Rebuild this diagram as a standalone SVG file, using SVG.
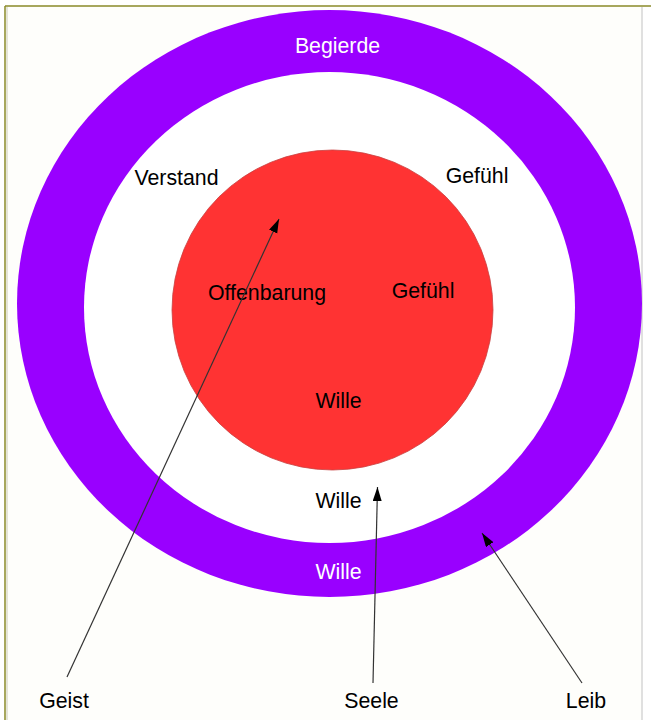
<svg xmlns="http://www.w3.org/2000/svg" width="651" height="720" viewBox="0 0 651 720">
<defs>
<style>
.t{font-family:"Liberation Sans",Arial,sans-serif;font-size:21.3px;text-anchor:middle}
.k{fill:#000}
.w{fill:#fff}
.c{stroke:#333;stroke-width:1.2;fill:none}
</style>
<marker id="ah" markerWidth="15" markerHeight="10" refX="14" refY="4.5" orient="auto" markerUnits="userSpaceOnUse">
<path d="M0,0 L14,4.5 L0,9 z" fill="#000"/>
</marker>
</defs>
<rect x="0" y="0" width="651" height="720" fill="#fff"/>
<rect x="5" y="6" width="637" height="714" fill="#fefefb"/>
<line x1="7" y1="7" x2="7" y2="720" stroke="#e4e4d8" stroke-width="2"/>
<line x1="5" y1="6" x2="651" y2="6" stroke="#8a8a28" stroke-width="1.5"/>
<line x1="5" y1="6" x2="5" y2="720" stroke="#8a8a28" stroke-width="1.5"/>
<line x1="642" y1="7" x2="642" y2="720" stroke="#d6d6d6" stroke-width="1.5"/>
<g id="leib">
<ellipse cx="329.5" cy="303.5" rx="312.5" ry="293.5" fill="#9900ff"/>
<text class="t w" x="337.5" y="53">Begierde</text>
<text class="t w" x="338.5" y="579">Wille</text>
</g>
<g id="seele">
<ellipse cx="329.5" cy="307.5" rx="245.5" ry="235.5" fill="#fff"/>
<text class="t k" x="176.5" y="185">Verstand</text>
<text class="t k" x="477" y="183">Gefühl</text>
<text class="t k" x="338.5" y="508">Wille</text>
</g>
<g id="geist">
<ellipse cx="332.5" cy="310" rx="160.5" ry="160" fill="#ff3333" stroke="#c84040" stroke-width="0.8"/>
<text class="t k" x="267" y="300">Offenbarung</text>
<text class="t k" x="423" y="298">Gefühl</text>
<text class="t k" x="338.5" y="408">Wille</text>
</g>
<g id="labels">
<text class="t k" x="64" y="708">Geist</text>
<text class="t k" x="371.5" y="708">Seele</text>
<text class="t k" x="586" y="708">Leib</text>
</g>
<g id="connectors">
<line class="c" x1="67" y1="677" x2="279" y2="219" marker-end="url(#ah)"/>
<line class="c" x1="373" y1="683" x2="377.5" y2="487" marker-end="url(#ah)"/>
<line class="c" x1="582" y1="683" x2="482" y2="533" marker-end="url(#ah)"/>
</g>
</svg>
